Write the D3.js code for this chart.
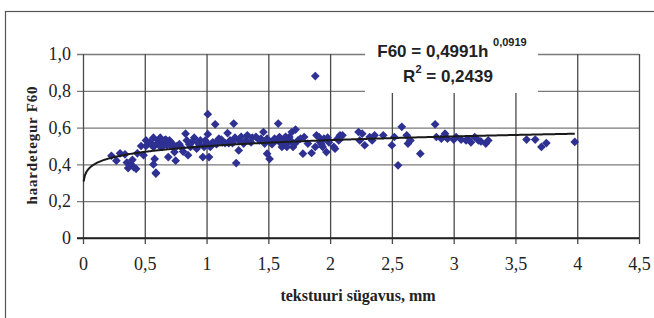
<!DOCTYPE html>
<html>
<head>
<meta charset="utf-8">
<script src="https://cdn.jsdelivr.net/npm/d3@7"></script>
<style>
  body { margin: 0; background: #fff; }
  svg { display: block; }
</style>
</head>
<body>
<div id="chart"></div>
<script>
'use strict';

// measured points: texture depth (mm) and friction F60
const depth = [
  0.23, 0.27, 0.30, 0.34, 0.355, 0.365, 0.39, 0.40, 0.41, 0.43, 0.44, 0.47, 0.49, 0.51, 0.51,
  0.54, 0.57, 0.57, 0.58, 0.57, 0.59, 0.59, 0.60, 0.61, 0.625, 0.64, 0.65, 0.67, 0.68, 0.69,
  0.70, 0.72, 0.725, 0.74, 0.75, 0.78, 0.81, 0.83, 0.84, 0.85, 0.87, 0.88, 0.90, 0.92, 0.94,
  0.95, 0.97, 0.98, 1.00, 1.01, 1.01, 1.02, 1.03, 1.05, 1.07, 1.08, 1.10, 1.12, 1.15, 1.17,
  1.19, 1.21, 1.22, 1.23, 1.24, 1.26, 1.26, 1.28, 1.30, 1.33, 1.37, 1.40, 1.43, 1.46, 1.47,
  1.49, 1.49, 1.51, 1.52, 1.55, 1.58, 1.59, 1.61, 1.62, 1.63, 1.65, 1.65, 1.67, 1.69, 1.70,
  1.72, 1.74, 1.78, 1.79, 1.82, 1.85, 1.88, 1.88, 1.89, 1.91, 1.92, 1.94, 1.95, 1.97, 1.99,
  2.03, 2.04, 2.06, 2.08, 2.10, 2.23, 2.24, 2.26, 2.28, 2.32, 2.34, 2.36, 2.43, 2.50, 2.52,
  2.55, 2.58, 2.62, 2.63, 2.65, 2.73, 2.85, 2.86, 2.90, 2.93, 2.95, 3.02, 3.06, 3.10, 3.12,
  3.17, 3.20, 3.26, 3.28, 3.59, 3.66, 3.71, 3.75, 3.98,
  0.55, 0.62, 0.66, 0.71, 0.76, 0.80, 0.86, 0.93, 0.99, 1.04, 1.09, 1.13, 1.18, 1.32, 1.36,
  1.44, 1.53, 1.56, 1.60, 1.64, 1.68, 1.71, 1.76, 1.93, 1.98, 2.07, 3.00, 3.14, 3.22
];
const friction = [
  0.447, 0.42, 0.46, 0.455, 0.41, 0.38, 0.40, 0.425, 0.385, 0.376, 0.46, 0.50, 0.45, 0.53, 0.50,
  0.52, 0.545, 0.495, 0.43, 0.40, 0.35, 0.355, 0.515, 0.53, 0.545, 0.495, 0.52, 0.535, 0.505, 0.44,
  0.53, 0.515, 0.495, 0.467, 0.42, 0.51, 0.47, 0.567, 0.53, 0.45, 0.495, 0.52, 0.545, 0.485, 0.51,
  0.53, 0.44, 0.495, 0.516, 0.564, 0.673, 0.44, 0.495, 0.52, 0.618, 0.51, 0.54, 0.535, 0.516, 0.57,
  0.53, 0.516, 0.622, 0.545, 0.407, 0.476, 0.53, 0.55, 0.513, 0.558, 0.545, 0.55, 0.53, 0.576, 0.513,
  0.458, 0.54, 0.43, 0.52, 0.54, 0.622, 0.549, 0.495, 0.52, 0.54, 0.513, 0.495, 0.549, 0.576, 0.495,
  0.589, 0.53, 0.458, 0.549, 0.513, 0.462, 0.495, 0.88, 0.558, 0.549, 0.52, 0.495, 0.54, 0.467, 0.52,
  0.495, 0.485, 0.54, 0.558, 0.558, 0.576, 0.53, 0.567, 0.504, 0.549, 0.53, 0.558, 0.558, 0.504, 0.549,
  0.395, 0.604, 0.558, 0.513, 0.53, 0.458, 0.618, 0.549, 0.54, 0.567, 0.54, 0.549, 0.535, 0.53, 0.535,
  0.549, 0.53, 0.513, 0.53, 0.535, 0.535, 0.495, 0.516, 0.522,
  0.51, 0.50, 0.53, 0.52, 0.50, 0.49, 0.51, 0.52, 0.53, 0.51, 0.53, 0.52, 0.515, 0.53, 0.52,
  0.54, 0.51, 0.53, 0.515, 0.55, 0.53, 0.51, 0.54, 0.51, 0.545, 0.53, 0.535, 0.52, 0.525
];

// power trendline shown in the chart: F60 = a * h^b
const trendA = 0.4991;
const trendB = 0.0919;
const trendFrom = 0.005;
const trendTo = 3.98;

const xTicks = [0, 0.5, 1, 1.5, 2, 2.5, 3, 3.5, 4, 4.5];
const yTicks = [0, 0.2, 0.4, 0.6, 0.8, 1.0];

const width = 654, height = 318;
const fmtComma = d => String(d).replace('.', ',');
const serif = '"Liberation Serif", "Times New Roman", serif';

const svg = d3.select('#chart').append('svg')
  .attr('width', width)
  .attr('height', height);

const x = d3.scaleLinear().domain([0, 4.5]).range([83, 639]);
const y = d3.scaleLinear().domain([0, 1]).range([238, 54]);

// outer chart frame (runs off the right and bottom of the picture)
svg.append('rect')
  .attr('x', 5.5).attr('y', 11.5)
  .attr('width', 700).attr('height', 400)
  .attr('fill', '#fff')
  .attr('stroke', '#555')
  .attr('stroke-width', 1.2);

// horizontal gridlines + y axis ticks
const yAxis = d3.axisLeft(y)
  .tickValues(yTicks)
  .tickSize(-(x(4.5) - x(0)))
  .tickPadding(12)
  .tickFormat(d => d === 0 ? '0' : fmtComma(d.toFixed(1)));

const gy = svg.append('g')
  .attr('transform', `translate(${x(0)},0)`)
  .call(yAxis);
gy.select('.domain').remove();
gy.selectAll('.tick line')
  .attr('x1', -6)
  .attr('stroke', d => d === 0 ? '#222' : '#7a7a7a')
  .attr('stroke-width', 1.3);
gy.selectAll('.tick text')
  .attr('fill', '#222')
  .style('font-family', serif)
  .style('font-size', '18px');

// vertical gridlines + x axis ticks
const xAxis = d3.axisBottom(x)
  .tickValues(xTicks)
  .tickSize(-(y(0) - y(1)))
  .tickPadding(19)
  .tickFormat(d => fmtComma(d));

const gx = svg.append('g')
  .attr('transform', `translate(0,${y(0)})`)
  .call(xAxis);
gx.select('.domain').remove();
gx.selectAll('.tick line')
  .attr('y1', 6)
  .attr('stroke', '#4a4a4a')
  .attr('stroke-width', 1.3);
gx.selectAll('.tick text')
  .attr('fill', '#222')
  .style('font-family', serif)
  .style('font-size', '18px');

// zero line on top of the verticals
svg.append('line')
  .attr('x1', x(0) - 6).attr('x2', x(4.5))
  .attr('y1', y(0)).attr('y2', y(0))
  .attr('stroke', '#222')
  .attr('stroke-width', 1.3);

// scatter points as diamonds
const points = depth.map((d, i) => ({ h: d, f: friction[i] }));
const diamond = d3.symbol().type(d3.symbolSquare).size(38);

svg.append('g')
  .selectAll('path')
  .data(points)
  .join('path')
  .attr('d', diamond)
  .attr('transform', d => `translate(${x(d.h)},${y(d.f)}) rotate(45)`)
  .attr('fill', '#2e3192');

// trendline
const trendPts = d3.range(trendFrom, trendTo, 0.01).concat([trendTo])
  .map(h => [h, trendA * Math.pow(h, trendB)]);

svg.append('path')
  .datum(trendPts)
  .attr('fill', 'none')
  .attr('stroke', '#1a1a1a')
  .attr('stroke-width', 2)
  .attr('d', d3.line().x(d => x(d[0])).y(d => y(d[1])));

// equation label
const eq = svg.append('g');
eq.append('rect')
  .attr('x', 365).attr('y', 34)
  .attr('width', 173).attr('height', 59)
  .attr('fill', '#fff');

const eqFont = '"Liberation Sans", Arial, sans-serif';
const line1 = eq.append('text')
  .attr('x', 452).attr('y', 57)
  .attr('text-anchor', 'middle')
  .attr('fill', '#222')
  .style('font-family', eqFont)
  .style('font-weight', 'bold')
  .style('font-size', '17px');
line1.append('tspan').text('F60 = ' + fmtComma(trendA) + 'h ');
line1.append('tspan')
  .attr('dy', -11)
  .style('font-size', '11px')
  .text(fmtComma(trendB));

const line2 = eq.append('text')
  .attr('x', 448).attr('y', 82)
  .attr('text-anchor', 'middle')
  .attr('fill', '#222')
  .style('font-family', eqFont)
  .style('font-weight', 'bold')
  .style('font-size', '17px');
line2.append('tspan').text('R');
line2.append('tspan')
  .attr('dy', -9)
  .style('font-size', '11px')
  .text('2');
line2.append('tspan')
  .attr('dy', 9)
  .text(' = 0,2439');

// axis titles
svg.append('text')
  .attr('x', 358).attr('y', 301)
  .attr('text-anchor', 'middle')
  .attr('fill', '#222')
  .style('font-family', serif)
  .style('font-weight', 'bold')
  .style('font-size', '16px')
  .text('tekstuuri sügavus, mm');

svg.append('text')
  .attr('transform', 'translate(37,145) rotate(-90)')
  .attr('text-anchor', 'middle')
  .attr('fill', '#222')
  .style('font-family', serif)
  .style('font-weight', 'bold')
  .style('font-size', '15px')
  .style('letter-spacing', '0.8px')
  .text('haardetegur  F60');
</script>
</body>
</html>
